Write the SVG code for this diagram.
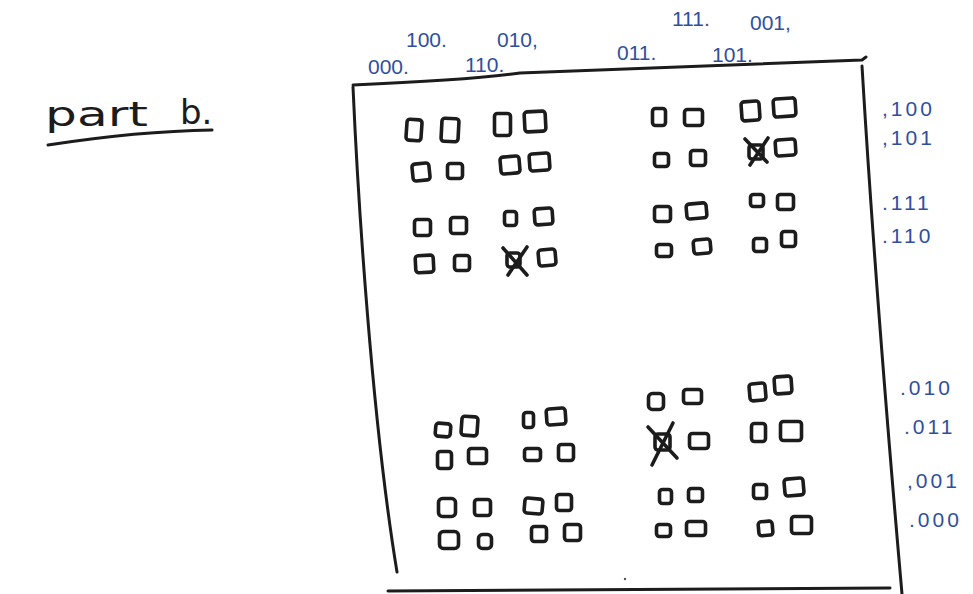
<svg xmlns="http://www.w3.org/2000/svg" width="973" height="594" viewBox="0 0 973 594">
<style>
.ink{fill:none;stroke:#1c1c1c;stroke-width:3;stroke-linecap:round;stroke-linejoin:round}
.sq{fill:none;stroke:#1c1c1c;stroke-width:3.6;stroke-linejoin:round}
.x{stroke:#1c1c1c;stroke-width:3.6;stroke-linecap:round}
.lbl{font-family:"Liberation Sans","DejaVu Sans",sans-serif;font-size:21px;fill:#2f4f9e}
.rl{letter-spacing:3px}
.title{font-family:"DejaVu Sans","Liberation Sans",sans-serif;font-size:34px;fill:#1c1c1c}
</style>
<rect width="973" height="594" fill="#ffffff"/>

<g id="title">
<text class="title" x="45" y="126" textLength="103" lengthAdjust="spacingAndGlyphs">part</text>
<text class="title" x="180" y="124">b.</text>
<path class="ink" d="M48,145 C100,137 150,131 212,130"/>
</g>

<g id="frame">
<path class="ink" d="M353,85 C400,83 470,80 520,73 L862,60 L866,57"/>
<path class="ink" d="M353,87 C358,200 372,420 397,572"/>
<path class="ink" d="M862,66 C870,200 885,400 902,594"/>
<path class="ink" d="M388,591 L890,588"/>
<circle cx="625" cy="579" r="1.2" fill="#555"/>
</g>

<g id="labels-top">
<text class="lbl" x="406" y="47">100.</text>
<text class="lbl" x="497" y="47">010,</text>
<text class="lbl" x="368" y="74">000.</text>
<text class="lbl" x="465" y="72">110.</text>
<text class="lbl" x="672" y="26">111.</text>
<text class="lbl" x="750" y="30">001,</text>
<text class="lbl" x="617" y="60">011.</text>
<text class="lbl" x="712" y="62">101.</text>
</g>

<g id="labels-right">
<text class="lbl rl" x="882" y="116">,100</text>
<text class="lbl rl" x="882" y="145">,101</text>
<text class="lbl rl" x="882" y="210">.111</text>
<text class="lbl rl" x="882" y="243">.110</text>
<text class="lbl rl" x="900" y="395">.010</text>
<text class="lbl rl" x="904" y="434">.011</text>
<text class="lbl rl" x="907" y="488">,001</text>
<text class="lbl rl" x="909" y="527">.000</text>
</g>

<g id="block-top-left">
<rect class="sq" x="406.5" y="119.5" width="15" height="21" rx="3" transform="rotate(4 414 130)"/>
<rect class="sq" x="441.5" y="118.5" width="17" height="23" rx="3" transform="rotate(3 450 130)"/>
<rect class="sq" x="494.5" y="113.5" width="16" height="22" rx="3"/>
<rect class="sq" x="524.5" y="111.5" width="21" height="20" rx="3" transform="rotate(-3 535 121)"/>
<rect class="sq" x="412.5" y="163.5" width="17" height="17" rx="3" transform="rotate(-6 421 172)"/>
<rect class="sq" x="447.5" y="163.5" width="15" height="15" rx="3"/>
<rect class="sq" x="500.5" y="156.5" width="19" height="17" rx="3" transform="rotate(-5 510 165)"/>
<rect class="sq" x="529.5" y="153.5" width="20" height="17" rx="3" transform="rotate(-4 539 162)"/>
<rect class="sq" x="414.5" y="219.5" width="16" height="16" rx="3"/>
<rect class="sq" x="450.5" y="217.5" width="16" height="16" rx="3"/>
<rect class="sq" x="504.5" y="211.5" width="12" height="14" rx="3"/>
<rect class="sq" x="534.5" y="208.5" width="18" height="16" rx="3" transform="rotate(-4 543 216)"/>
<rect class="sq" x="415.5" y="255.5" width="18" height="17" rx="3" transform="rotate(-3 424 264)"/>
<rect class="sq" x="454.5" y="255.5" width="15" height="15" rx="3"/>
<rect class="sq" x="507" y="253" width="13" height="14" rx="3"/>
<line class="x" x1="503" y1="248" x2="527" y2="275"/>
<line class="x" x1="527" y1="247" x2="508" y2="275"/>
<rect class="sq" x="538.5" y="249.5" width="17" height="16" rx="3" transform="rotate(-5 547 257)"/>
</g>

<g id="block-top-right">
<rect class="sq" x="652.5" y="108.5" width="13" height="17" rx="3"/>
<rect class="sq" x="684.5" y="109.5" width="18" height="16" rx="3"/>
<rect class="sq" x="741.5" y="101.5" width="18" height="19" rx="3" transform="rotate(-4 750 111)"/>
<rect class="sq" x="773.5" y="98.5" width="22" height="18" rx="3" transform="rotate(-4 784 107)"/>
<rect class="sq" x="654.5" y="153.5" width="14" height="13" rx="3"/>
<rect class="sq" x="690.5" y="150.5" width="15" height="15" rx="3"/>
<rect class="sq" x="749" y="145" width="14" height="14" rx="3"/>
<line class="x" x1="745" y1="139" x2="767" y2="162"/>
<line class="x" x1="768" y1="138" x2="750" y2="165"/>
<rect class="sq" x="775.5" y="139.5" width="20" height="16" rx="3" transform="rotate(-4 785 147)"/>
<rect class="sq" x="654.5" y="206.5" width="16" height="15" rx="3"/>
<rect class="sq" x="686.5" y="203.5" width="20" height="15" rx="3" transform="rotate(-5 696 211)"/>
<rect class="sq" x="750.5" y="194.5" width="13" height="12" rx="3"/>
<rect class="sq" x="777.5" y="194.5" width="16" height="15" rx="3"/>
<rect class="sq" x="656.5" y="244.5" width="15" height="12" rx="3"/>
<rect class="sq" x="693.5" y="239.5" width="17" height="14" rx="3" transform="rotate(-5 702 246)"/>
<rect class="sq" x="753.5" y="238.5" width="13" height="13" rx="3"/>
<rect class="sq" x="781.5" y="231.5" width="14" height="15" rx="3"/>
</g>

<g id="block-bottom-left">
<rect class="sq" x="435.5" y="423.5" width="15" height="13" rx="3" transform="rotate(5 443 430)"/>
<rect class="sq" x="461.5" y="416.5" width="16" height="19" rx="3" transform="rotate(4 469 426)"/>
<rect class="sq" x="523.5" y="412.5" width="10" height="15" rx="3"/>
<rect class="sq" x="546.5" y="408.5" width="19" height="16" rx="3" transform="rotate(-4 556 416)"/>
<rect class="sq" x="437.5" y="451.5" width="14" height="17" rx="3"/>
<rect class="sq" x="468.5" y="448.5" width="18" height="15" rx="3"/>
<rect class="sq" x="524.5" y="448.5" width="16" height="12" rx="3"/>
<rect class="sq" x="558.5" y="444.5" width="15" height="16" rx="3"/>
<rect class="sq" x="438.5" y="498.5" width="17" height="18" rx="4"/>
<rect class="sq" x="474.5" y="499.5" width="16" height="16" rx="3"/>
<rect class="sq" x="524.5" y="498.5" width="18" height="15" rx="3" transform="rotate(5 533 506)"/>
<rect class="sq" x="556.5" y="494.5" width="15" height="16" rx="3"/>
<rect class="sq" x="439.5" y="531.5" width="19" height="17" rx="4"/>
<rect class="sq" x="478.5" y="534.5" width="13" height="14" rx="4"/>
<rect class="sq" x="531.5" y="526.5" width="15" height="15" rx="3"/>
<rect class="sq" x="564.5" y="524.5" width="16" height="16" rx="3"/>
</g>

<g id="block-bottom-right">
<rect class="sq" x="648.5" y="393.5" width="15" height="16" rx="4"/>
<rect class="sq" x="683.5" y="389.5" width="18" height="14" rx="3"/>
<rect class="sq" x="749.5" y="383.5" width="16" height="17" rx="3" transform="rotate(-5 757 392)"/>
<rect class="sq" x="774.5" y="376.5" width="17" height="17" rx="3" transform="rotate(-4 783 385)"/>
<rect class="sq" x="655" y="434" width="15" height="16" rx="3"/>
<line class="x" x1="648" y1="427" x2="677" y2="458"/>
<line class="x" x1="673" y1="423" x2="652" y2="465"/>
<rect class="sq" x="689.5" y="433.5" width="19" height="15" rx="3"/>
<rect class="sq" x="751.5" y="423.5" width="14" height="18" rx="3"/>
<rect class="sq" x="780.5" y="421.5" width="21" height="19" rx="3"/>
<rect class="sq" x="659.5" y="489.5" width="12" height="14" rx="3"/>
<rect class="sq" x="688.5" y="488.5" width="14" height="13" rx="3"/>
<rect class="sq" x="753.5" y="484.5" width="13" height="14" rx="3"/>
<rect class="sq" x="784.5" y="478.5" width="19" height="17" rx="3" transform="rotate(-5 794 487)"/>
<rect class="sq" x="656.5" y="524.5" width="14" height="12" rx="3"/>
<rect class="sq" x="686.5" y="521.5" width="19" height="14" rx="3"/>
<rect class="sq" x="758.5" y="521.5" width="14" height="14" rx="3" transform="rotate(-5 765 528)"/>
<rect class="sq" x="791.5" y="516.5" width="20" height="17" rx="3"/>
</g>
</svg>
